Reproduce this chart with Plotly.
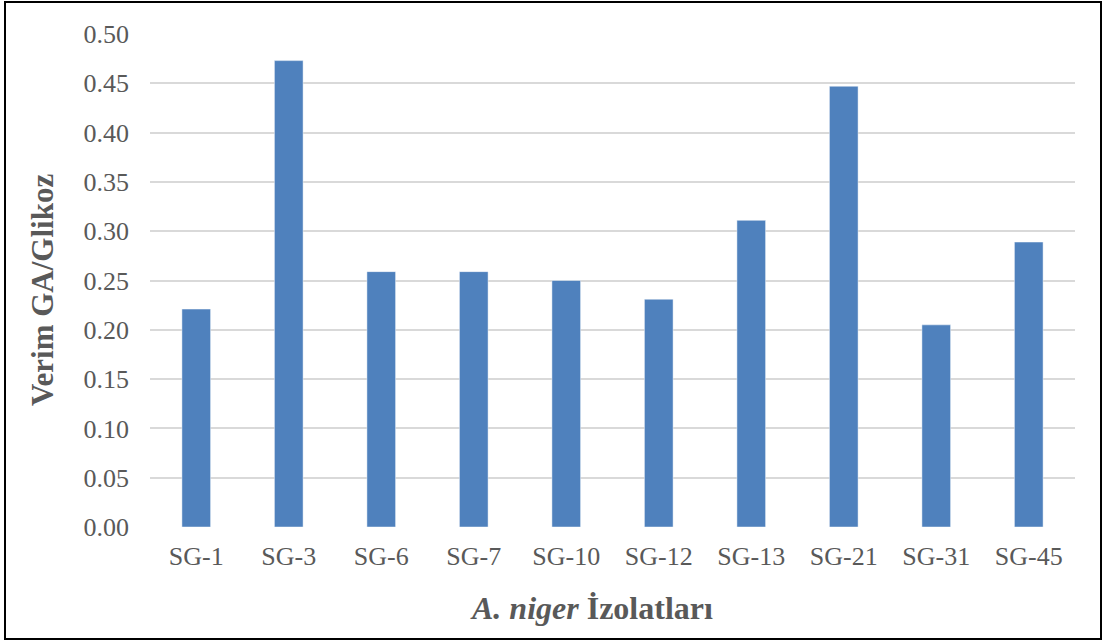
import plotly.graph_objects as go

# Glukonik asit verimi (GA/Glikoz) - A. niger izolatları
isolates = ["SG-1", "SG-3", "SG-6", "SG-7", "SG-10", "SG-12", "SG-13", "SG-21", "SG-31", "SG-45"]
yield_ratio = [0.221, 0.473, 0.259, 0.259, 0.250, 0.231, 0.311, 0.447, 0.205, 0.289]
y_ticks = [0.00, 0.05, 0.10, 0.15, 0.20, 0.25, 0.30, 0.35, 0.40, 0.45, 0.50]

W, H = 1103, 642
ML, MR, MT, MB = 150, 28, 34, 115
PW, PH = W - ML - MR, H - MT - MB

FONT = "Liberation Serif, Times New Roman, serif"
GRAY = "#595959"


def px_x(px):
    return (px - ML) / PW


def px_y(py):
    return (H - MB - py) / PH


fig = go.Figure(
    go.Bar(
        x=isolates,
        y=yield_ratio,
        marker=dict(color="#4F81BD", line=dict(color="rgba(255,255,255,0.45)", width=1)),
    )
)

fig.update_layout(
    width=W,
    height=H,
    margin=dict(l=ML, r=MR, t=MT, b=MB, autoexpand=False),
    paper_bgcolor="white",
    plot_bgcolor="white",
    bargap=0.69,
    showlegend=False,
    font=dict(family=FONT, color=GRAY, size=26),
    xaxis=dict(
        showgrid=False,
        showline=False,
        zeroline=False,
        ticks="",
        ticklabelstandoff=11,
        tickfont=dict(family=FONT, size=26, color=GRAY),
    ),
    yaxis=dict(
        range=[0, 0.5],
        tickvals=y_ticks,
        ticktext=[f"{v:.2f}" for v in y_ticks],
        showgrid=True,
        gridcolor="#d9d9d9",
        gridwidth=1.5,
        zeroline=False,
        showline=False,
        ticks="",
        ticklabelstandoff=20,
        tickfont=dict(family=FONT, size=26, color=GRAY),
    ),
    annotations=[
        dict(
            text="<b>Verim GA/Glikoz</b>",
            xref="paper", yref="paper",
            x=px_x(42), y=px_y(290),
            xanchor="center", yanchor="middle",
            textangle=-90, showarrow=False,
            font=dict(family=FONT, size=31, color=GRAY),
        ),
        dict(
            text="<b><i>A. niger</i> İzolatları</b>",
            xref="paper", yref="paper",
            x=px_x(591), y=px_y(608),
            xanchor="center", yanchor="middle",
            showarrow=False,
            font=dict(family=FONT, size=32, color=GRAY),
        ),
    ],
    shapes=[
        dict(
            type="rect",
            xref="paper", yref="paper",
            x0=px_x(5), x1=px_x(1101),
            y0=px_y(639), y1=px_y(2),
            line=dict(color="black", width=2),
            fillcolor="rgba(0,0,0,0)",
            layer="above",
        )
    ],
)

fig.write_html("out.html")
